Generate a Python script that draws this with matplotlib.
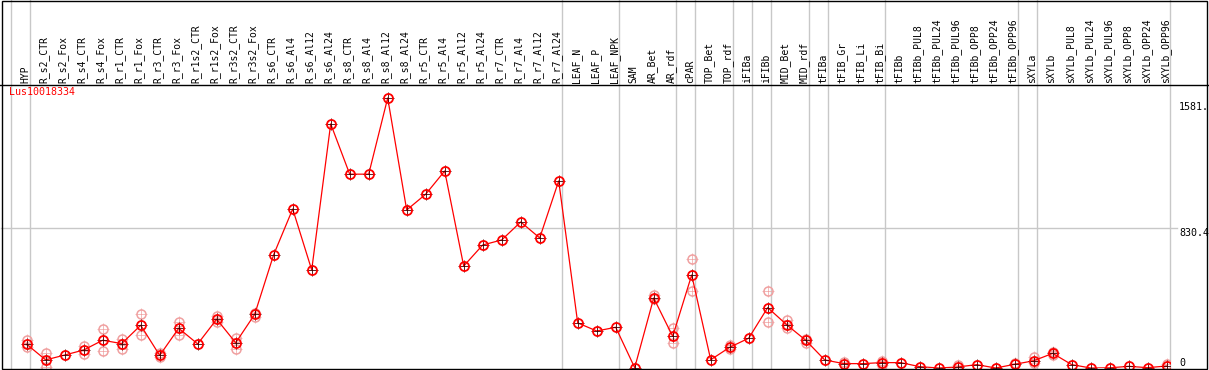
import numpy as np
import matplotlib
matplotlib.use("Agg")
import matplotlib.pyplot as plt
from matplotlib.lines import Line2D
from matplotlib.patches import Rectangle

gene = "Lus10018334"

samples = ["HYP", "R_s2_CTR", "R_s2_Fox", "R_s4_CTR", "R_s4_Fox", "R_r1_CTR", "R_r1_Fox",
           "R_r3_CTR", "R_r3_Fox", "R_r1s2_CTR", "R_r1s2_Fox", "R_r3s2_CTR", "R_r3s2_Fox",
           "R_s6_CTR", "R_s6_Al4", "R_s6_Al12", "R_s6_Al24", "R_s8_CTR", "R_s8_Al4", "R_s8_Al12",
           "R_s8_Al24", "R_r5_CTR", "R_r5_Al4", "R_r5_Al12", "R_r5_Al24", "R_r7_CTR", "R_r7_Al4",
           "R_r7_Al12", "R_r7_Al24", "LEAF_N", "LEAF_P", "LEAF_NPK", "SAM", "AR_Bet", "AR_rdf",
           "cPAR", "TOP_Bet", "TOP_rdf", "iFIBa", "iFIBb", "MID_Bet", "MID_rdf", "tFIBa",
           "tFIB_Gr", "tFIB_Li", "tFIB_Bi", "tFIBb", "tFIBb_PUL8", "tFIBb_PUL24", "tFIBb_PUL96",
           "tFIBb_OPP8", "tFIBb_OPP24", "tFIBb_OPP96", "sXYLa", "sXYLb", "sXYLb_PUL8",
           "sXYLb_PUL24", "sXYLb_PUL96", "sXYLb_OPP8", "sXYLb_OPP24", "sXYLb_OPP96"]

means = [141, 48, 77, 107, 165, 145, 254, 75, 236, 143, 290, 150, 319,
         674, 945, 583, 1451, 1152, 1152, 1605, 939, 1033, 1171, 606, 731, 761, 868, 773, 1112,
         268, 220, 242, 2, 416, 188, 553, 49, 123, 177, 359, 257, 165, 48,
         26, 26, 32, 32, 8, 0, 6, 20, 0, 22, 43, 87, 20, 0, 1, 10, 2, 12]

N = None
rep_hi = [166, 87, N, 133, 230, 171, 319, 87, 275, N, 309, 180, 325,
          N, N, N, N, N, N, N, N, N, N, N, N, N, N, N, N,
          N, N, N, N, 432, 236, 648, N, 139, N, 456, 285, 174, N,
          36, N, 43, N, N, N, 16, N, N, 32, 64, 95, N, N, N, N, N, 26]
rep_lo = [127, 8, N, 81, 103, 115, 194, 64, 194, N, 273, 113, 301,
          N, N, N, N, N, N, N, N, N, N, N, N, N, N, N, N,
          N, N, N, N, 408, 147, 456, N, 111, N, 272, 238, 150, N,
          N, N, 20, N, N, N, N, N, N, N, 28, 75, N, N, N, N, N, N]

# last column index of each group (separators drawn just after these)
group_ends = [-1, 0, 28, 31, 34, 35, 37, 38, 39, 41, 42, 45, 52, 53, 60]

y_ticks = [0, 830.4, 1581]
y_tick_labels = ["0", "830.4", "1581."]

W, H = 1209, 370
fig = plt.figure(figsize=(W / 100, H / 100), dpi=100)
fig.patch.set_facecolor("white")

# plot area in pixels: x 1..1170, y 85..368 (from top)
px_l, px_r, px_t, px_b = 1, 1170, 85, 368
ax = fig.add_axes([px_l / W, 1 - px_b / H, (px_r - px_l) / W, (px_b - px_t) / H])
ax.set_axis_off()
step = 19.0
x0 = 26.7
ax.set_xlim((px_l - x0) / step, (px_r - x0) / step)
ax.set_ylim(0, 1682)

x = np.arange(len(samples))
m = np.array(means, dtype=float)
hi = np.array([np.nan if v is None else v for v in rep_hi], dtype=float)
lo = np.array([np.nan if v is None else v for v in rep_lo], dtype=float)

mono = "DejaVu Sans Mono"
grid_c = "#c8c8c8"
red = "#ff0000"
pink = "#f0a0a0"

# separators extend up through the header
top_frac = px_b / (px_b - px_t)
for g in group_ends:
    ax.axvline(g + 0.19, ymin=0, ymax=top_frac, color=grid_c, lw=1.0, clip_on=False, zorder=1)
ax.axhline(830.4, xmin=0, xmax=1.006, color=grid_c, lw=1.0, clip_on=False, zorder=1)

# replicates
for rep in (hi, lo):
    ax.plot(x, rep, ls="none", marker="+", ms=8, mew=0.5, color=pink, zorder=2)
    ax.plot(x, rep, ls="none", marker="o", ms=6.5, mfc="none", mec=pink, mew=1.1, zorder=2)

# mean profile
ax.plot(x, m, color=red, lw=0.9, zorder=3)
ax.plot(x, m, ls="none", marker="+", ms=8, mew=0.6, color="#400000", zorder=4)
ax.plot(x, m, ls="none", marker="o", ms=6.5, mfc="none", mec=red, mew=1.3, zorder=5)

# sample labels in header
xt = ax.get_xaxis_transform()
for i, s in enumerate(samples):
    ax.text(i - 0.08, 1.0 + 2.5 / (px_b - px_t), s, transform=xt, rotation=90,
            ha="center", va="bottom", fontsize=7, family=mono, color="black", clip_on=False)

# y labels on the right
yt = ax.get_yaxis_transform()
lx = 1 + (1179 - px_r) / (px_r - px_l)
for v, lab in zip(y_ticks, y_tick_labels):
    ax.text(lx, v, lab, transform=yt, ha="left", va="bottom" if v == 0 else "top",
            fontsize=7.2, family=mono, color="black", clip_on=False)

ax.text(0.007, 0.975, gene, transform=ax.transAxes, ha="left", va="center",
        fontsize=7.2, family=mono, color=red)

# frame and header divider
fig.add_artist(Line2D([0, 1], [1 - px_t / H, 1 - px_t / H], transform=fig.transFigure,
                      color="black", lw=1.0))
fig.add_artist(Rectangle((1.5 / W, 1 - 369 / H), (1207 - 1.5) / W, (369 - 0.5) / H,
                         transform=fig.transFigure, fill=False, ec="black", lw=1.0))

fig.savefig("out.png", dpi=100, facecolor="white")
